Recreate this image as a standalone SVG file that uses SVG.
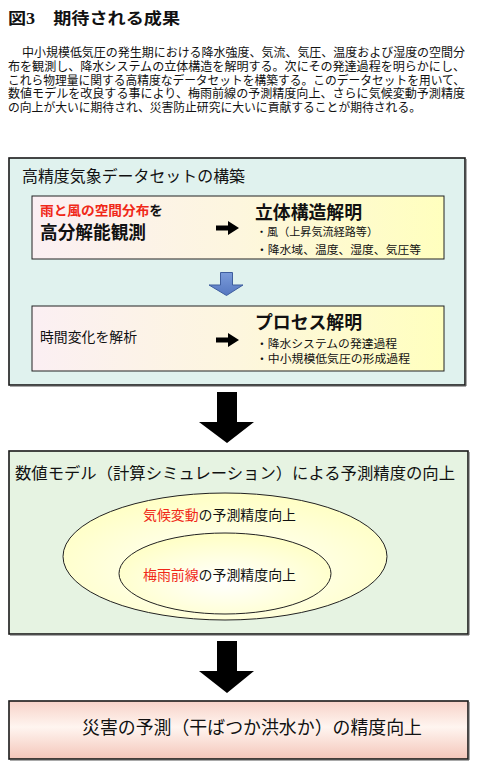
<svg xmlns="http://www.w3.org/2000/svg" width="480" height="767" viewBox="0 0 480 767">
<style>
.serif{font-family:"Liberation Serif","Noto Sans CJK JP",serif;fill:#111}
.sans{font-family:"Noto Sans CJK JP","Liberation Sans",sans-serif;fill:#111}
.red{fill:#F02818}
.box{stroke:#1a1a1a;stroke-width:1.6}
.inner{stroke:#222;stroke-width:1}
</style>
<defs>
<linearGradient id="gInner" x1="0" y1="0" x2="1" y2="0">
<stop offset="0" stop-color="#FBEFF3"/><stop offset="0.5" stop-color="#FDF6DE"/><stop offset="1" stop-color="#FFFFBE"/>
</linearGradient>
<linearGradient id="gBottom" x1="0" y1="0" x2="0" y2="1">
<stop offset="0" stop-color="#F7D2C8"/><stop offset="0.45" stop-color="#FFF5F0"/><stop offset="1" stop-color="#F4C6BA"/>
</linearGradient>
<radialGradient id="gEll" cx="0.5" cy="0.6" r="0.6">
<stop offset="0" stop-color="#FFFFFF"/><stop offset="1" stop-color="#FFFFC4"/>
</radialGradient>
<linearGradient id="gBlue" x1="0" y1="0" x2="0" y2="1">
<stop offset="0" stop-color="#7B9CDA"/><stop offset="1" stop-color="#5577C0"/>
</linearGradient>
</defs>

<g id="title">
<text class="serif" x="8" y="24" font-size="16" font-weight="bold" textLength="172" lengthAdjust="spacingAndGlyphs">図3　期待される成果</text>
</g>
<g id="paragraph" font-size="12.2">
<text class="serif" x="22" y="57" textLength="443" lengthAdjust="spacingAndGlyphs">中小規模低気圧の発生期における降水強度、気流、気圧、温度および湿度の空間分</text>
<text class="serif" x="8" y="71" textLength="457" lengthAdjust="spacingAndGlyphs">布を観測し、降水システムの立体構造を解明する。次にその発達過程を明らかにし、</text>
<text class="serif" x="8" y="84.5" textLength="457" lengthAdjust="spacingAndGlyphs">これら物理量に関する高精度なデータセットを構築する。このデータセットを用いて、</text>
<text class="serif" x="8" y="98" textLength="457" lengthAdjust="spacingAndGlyphs">数値モデルを改良する事により、梅雨前線の予測精度向上、さらに気候変動予測精度</text>
<text class="serif" x="8" y="111.5" textLength="413" lengthAdjust="spacingAndGlyphs">の向上が大いに期待され、災害防止研究に大いに貢献することが期待される。</text>
</g>

<g id="box-dataset">
<rect x="9" y="158" width="456" height="227" fill="#E0F2EE" class="box"/>
<line x1="10" y1="386" x2="466" y2="386" stroke="#555" stroke-width="1"/>
<line x1="466" y1="159" x2="466" y2="386" stroke="#555" stroke-width="1"/>
<text class="sans" x="22" y="182" font-size="15.5" textLength="223" lengthAdjust="spacingAndGlyphs">高精度気象データセットの構築</text>
</g>

<g id="box-observe">
<rect x="32" y="196" width="412" height="63" fill="url(#gInner)" class="inner"/>
<text class="sans" x="40" y="215" font-size="13" font-weight="bold" textLength="123" lengthAdjust="spacingAndGlyphs"><tspan class="red">雨と風の空間分布</tspan>を</text>
<text class="sans" x="40" y="239" font-size="18" font-weight="bold" textLength="106" lengthAdjust="spacingAndGlyphs">高分解能観測</text>
<text class="sans" x="255" y="219" font-size="18" font-weight="bold" textLength="107" lengthAdjust="spacingAndGlyphs">立体構造解明</text>
<text class="sans" x="256" y="236" font-size="11" textLength="122" lengthAdjust="spacingAndGlyphs">・風（上昇気流経路等）</text>
<text class="sans" x="256" y="254" font-size="11.5" textLength="165" lengthAdjust="spacingAndGlyphs">・降水域、温度、湿度、気圧等</text>
</g>

<g id="box-process">
<rect x="32" y="306" width="412" height="65" fill="url(#gInner)" class="inner"/>
<text class="sans" x="40" y="342" font-size="13.5" textLength="97" lengthAdjust="spacingAndGlyphs">時間変化を解析</text>
<text class="sans" x="255" y="329" font-size="18" font-weight="bold" textLength="107" lengthAdjust="spacingAndGlyphs">プロセス解明</text>
<text class="sans" x="256" y="348" font-size="11.5" textLength="141" lengthAdjust="spacingAndGlyphs">・降水システムの発達過程</text>
<text class="sans" x="256" y="363" font-size="11.5" textLength="154" lengthAdjust="spacingAndGlyphs">・中小規模低気圧の形成過程</text>
</g>

<g id="box-model">
<rect x="9" y="451" width="459" height="183" fill="#E6F3E2" class="box"/>
<line x1="10" y1="635" x2="469" y2="635" stroke="#555" stroke-width="1"/>
<line x1="469" y1="452" x2="469" y2="635" stroke="#555" stroke-width="1"/>
<text class="sans" x="15" y="479" font-size="16" textLength="440" lengthAdjust="spacingAndGlyphs">数値モデル（計算シミュレーション）による予測精度の向上</text>
</g>

<g id="ellipse-climate">
<ellipse cx="225" cy="556.5" rx="162" ry="63.5" fill="url(#gEll)" stroke="#222" stroke-width="1"/>
<text class="sans" x="143" y="520" font-size="13.5" textLength="153" lengthAdjust="spacingAndGlyphs"><tspan class="red">気候変動</tspan>の予測精度向上</text>
</g>

<g id="ellipse-baiu">
<ellipse cx="225" cy="573.5" rx="106" ry="40.5" fill="url(#gEll)" stroke="#222" stroke-width="1"/>
<text class="sans" x="143" y="580" font-size="13.5" textLength="153" lengthAdjust="spacingAndGlyphs"><tspan class="red">梅雨前線</tspan>の予測精度向上</text>
</g>

<g id="box-disaster">
<rect x="9" y="701" width="459" height="58" fill="url(#gBottom)" class="box"/>
<line x1="10" y1="760" x2="469" y2="760" stroke="#555" stroke-width="1"/>
<line x1="469" y1="702" x2="469" y2="760" stroke="#555" stroke-width="1"/>
<text class="sans" x="82" y="734" font-size="18" textLength="340" lengthAdjust="spacingAndGlyphs">災害の予測（干ばつか洪水か）の精度向上</text>
</g>

<g id="connectors">
<polygon points="216,225.5 228,225.5 228,221 239,228 228,235 228,230.5 216,230.5" fill="#000"/>
<polygon points="216,337.5 228,337.5 228,333 239,340 228,347 228,342.5 216,342.5" fill="#000"/>
<polygon points="220.5,272.5 232.5,272.5 232.5,285 243,285 226.5,295.5 209,285 220.5,285" fill="url(#gBlue)" stroke="#3E5E9E" stroke-width="1"/>
<polygon points="217,392 237,392 237,422 254,422 227,443 199,422 217,422" fill="#000"/>
<polygon points="217,641 237,641 237,671 254,671 227,693 199,671 217,671" fill="#000"/>
</g>
</svg>
